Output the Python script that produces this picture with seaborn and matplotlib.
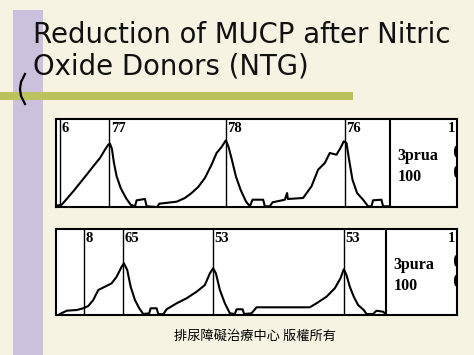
import numpy as np
import pandas as pd
import seaborn as sns
import matplotlib.pyplot as plt
from matplotlib.patches import Rectangle, Ellipse

# trace 1 (3prua) : temps (px) et pression (px)
t1 = [0.7, 5.7, 10.7, 17.3, 24, 30.7, 37.3, 44, 49, 52.3, 54, 56, 58, 60.7, 64.7, 70, 74.7, 79,
      80.7, 89, 90.7, 101.3, 103.3, 120.7, 129, 135.7, 142.3, 149, 155.7, 160.7, 165.7, 170,
      172.7, 176, 180, 184.7, 190, 194, 196.7, 207.3, 209, 214, 216.7, 229, 231.3, 232, 247.3,
      255.7, 262.3, 269, 274, 280.7, 284.7, 288, 290.7, 293.3, 296.7, 301.3, 307.3, 312.3,
      315.7, 317.3, 325.7, 327.3, 334]
p1 = [1.3, 2.3, 8, 15.7, 24, 32.3, 40.7, 49, 57.3, 62.3, 63.3, 58, 44, 30.7, 19, 9, 2.3, 0.7,
      6.7, 8, 0.7, 0, 3.3, 5.3, 9, 14, 20, 29, 42.3, 54, 60, 66.7,
      60, 47.3, 30.7, 17.3, 5.7, 0.7, 7.3, 7.3, 0.7, 0.7, 4.7, 7.3, 14, 8, 9,
      20.7, 37.3, 44, 54, 52.3, 59, 65.7, 64, 47.3, 27.3, 14, 7.3, 0.7,
      0.7, 6.7, 7.3, 0.7, 0.7]
events1 = [4, 53.3, 170, 289]
labels1 = ['6', '77', '78', '76']

# trace 2 (3pura)
t2 = [4, 10.7, 20.7, 27.3, 32.3, 37.3, 42.3, 49, 55.7, 60.7, 65.7, 68, 71.3, 74.7, 79, 83.3,
      87.3, 93.3, 94.7, 100.7, 102.3, 107.3, 110.7, 120.7, 130.7, 140.7, 149, 154, 157.3, 160,
      164, 169, 174, 179, 180.7, 186.7, 188.3, 195.7, 200.7, 227.3, 254, 260.7, 270.7, 279,
      284.7, 288, 290.7, 294, 298, 302.3, 308, 310.7, 317.3, 320.7, 327.3, 330]
p2 = [1, 4.3, 5, 6.7, 9, 15, 25, 28.3, 31.7, 38.3, 48.3, 51.7, 45, 28.3, 15, 6.7,
      1, 1.7, 6.7, 6.7, 1, 0.7, 5.7, 11.7, 16.7, 23.3, 30, 41.7, 46.7, 41.7,
      25, 11.7, 1.7, 1, 5.7, 5.7, 1, 1.7, 7.7, 7.7, 7.7, 11.7, 18.3, 26.7,
      36.7, 45.7, 40, 28.3, 18.3, 10, 5, 1, 1, 4.3, 3.3, 1]
events2 = [28, 67.3, 157.3, 288.3]
labels2 = ['8', '65', '53', '53']

W, H = 474, 355
fig = plt.figure(figsize=(W / 100, H / 100), dpi=100)
fig.patch.set_facecolor('#f6f3e3')

def px_axes(l, t, r, b):
    return fig.add_axes([l / W, 1 - b / H, (r - l) / W, (b - t) / H])

# decor du fond
bg = px_axes(0, 0, W, H)
bg.set_xlim(0, W)
bg.set_ylim(H, 0)
bg.axis('off')
bg.add_patch(Rectangle((13, 10), 30, 345, color='#cbc1dc', lw=0))
bg.add_patch(Rectangle((0, 92), 353, 8, color='#bcc35c', lw=0))
bg.plot([25, 21, 20, 21, 25], [74, 82, 89, 96, 104], color='black', lw=1.6)
bg.text(33, 43, 'Reduction of MUCP after Nitric', fontsize=19.8, family='DejaVu Sans',
        va='baseline', color='#111111')
bg.text(33, 74, 'Oxide Donors (NTG)', fontsize=19.8, family='DejaVu Sans',
        va='baseline', color='#111111')
bg.text(255, 336, '排尿障礙治療中心 版權所有', fontsize=9.5, ha='center', va='center',
        family=['Noto Sans CJK TC', 'DejaVu Sans'])

def panel(ax, t, p, events, labels, divider, name, height):
    df = pd.DataFrame({'t': t, 'p': p})
    ax.set_facecolor('white')
    sns.lineplot(data=df, x='t', y='p', ax=ax, color='black', lw=1.5,
                 estimator=None, sort=False)
    for e, lab in zip(events, labels):
        ax.axvline(e, color='black', lw=1)
        ax.text(e + 1.5, height - 3, lab, fontsize=10.5, fontweight='bold',
                family='Liberation Serif', va='top', ha='left')
    ax.axvline(divider, color='black', lw=1.5)
    ax.text(divider + 8, height * 0.46, name + '\n100', fontsize=11.5, fontweight='bold',
            family='Liberation Serif', va='center', ha='left', linespacing=1.45)
    ax.text(399, height - 3, '1', fontsize=10.5, fontweight='bold',
            family='Liberation Serif', va='top', ha='right')
    for yy in (height * 0.63, height * 0.40):
        ax.add_patch(Ellipse((400.5, yy), 3, 10, color='black'))
    ax.set_xlim(0, 401.3)
    ax.set_ylim(0, height)
    ax.set_xticks([])
    ax.set_yticks([])
    ax.set_xlabel('')
    ax.set_ylabel('')
    for s in ax.spines.values():
        s.set_linewidth(1.5)
        s.set_color('black')

ax1 = px_axes(56, 119, 457, 207)
panel(ax1, t1, p1, events1, labels1, 334, '3prua', 88)
ax2 = px_axes(56, 229, 457, 315)
panel(ax2, t2, p2, events2, labels2, 330, '3pura', 86)

fig.savefig('out.png', dpi=100, facecolor=fig.get_facecolor())
